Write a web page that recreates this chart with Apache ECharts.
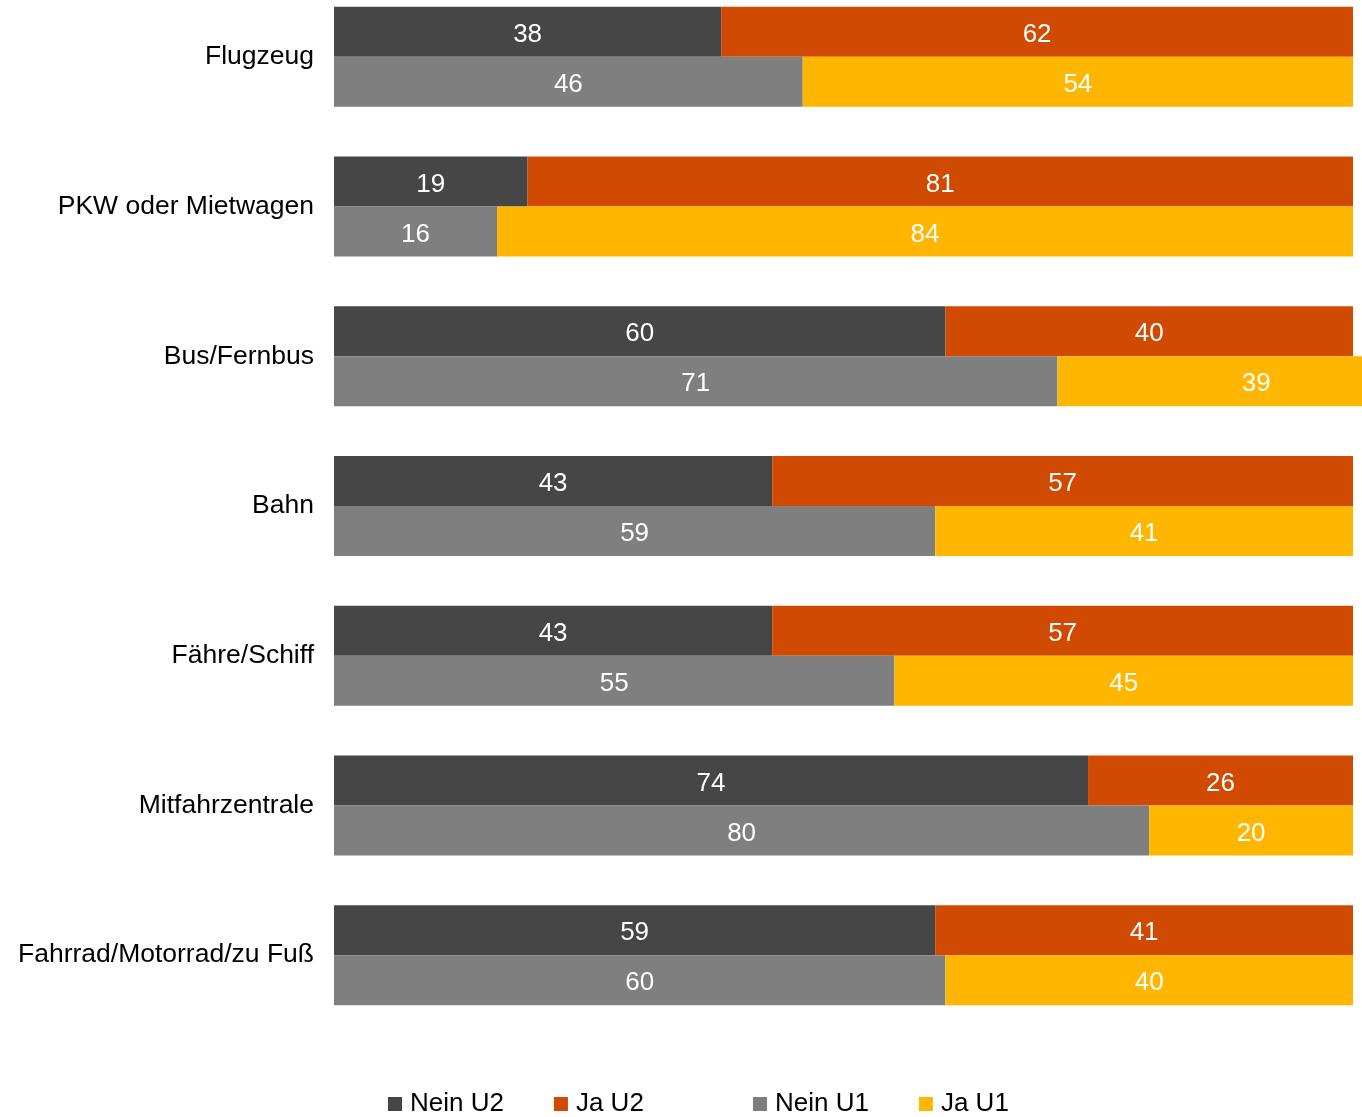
<!DOCTYPE html>
<html><head><meta charset="utf-8">
<script src="https://cdn.jsdelivr.net/npm/echarts@6/dist/echarts.min.js"></script>
<style>html,body{margin:0;padding:0;background:#fff}#c{width:1362px;height:1117px}</style>
</head><body><div id="c"></div>
<script>
const categories = ['Flugzeug','PKW oder Mietwagen','Bus/Fernbus','Bahn','Fähre/Schiff','Mitfahrzentrale','Fahrrad/Motorrad/zu Fuß'];
const neinU2 = [38,19,60,43,43,74,59];
const jaU2   = [62,81,40,57,57,26,41];
const neinU1 = [46,16,71,59,55,80,60];
const jaU1   = [54,84,39,41,45,20,40];

const FONT = '"Liberation Sans", Arial, sans-serif';
const lbl = {show:true, position:'inside', color:'#fff', fontSize:26, fontFamily:FONT, offset:[0,3]};
function s(name, data, stack, color){
  return {name, type:'bar', stack, data, barWidth:50, barGap:'0%', clip:false,
    itemStyle:{color}, label:lbl, emphasis:{disabled:true}};
}
const legendText = {fontSize:26, fontFamily:FONT, color:'#000', padding:[0,0,0,3]};
const chart = echarts.init(document.getElementById('c'));
chart.setOption({
  animation:false,
  grid:{left:334, right:9, top:-18, height:1048, outerBoundsMode:'none', containLabel:false},
  xAxis:{type:'value', min:0, max:100, show:false, splitLine:{show:false}},
  yAxis:{type:'category', data:categories, inverse:true,
    axisLine:{show:false}, axisTick:{show:false},
    axisLabel:{color:'#000', fontSize:26.5, fontFamily:FONT, margin:20, padding:[8,0,0,0]}},
  legend:[
    {data:['Nein U2','Ja U2'], left:388, top:1091, padding:0, itemWidth:14, itemHeight:14, itemGap:50, icon:'rect',
      textStyle:legendText},
    {data:['Nein U1','Ja U1'], left:753, top:1091, padding:0, itemWidth:14, itemHeight:14, itemGap:50, icon:'rect',
      textStyle:legendText}
  ],
  series:[
    s('Nein U2', neinU2, 'U2', '#464646'),
    s('Ja U2', jaU2, 'U2', '#D04A02'),
    s('Nein U1', neinU1, 'U1', '#7F7F7F'),
    s('Ja U1', jaU1, 'U1', '#FFB600')
  ]
});
</script></body></html>
